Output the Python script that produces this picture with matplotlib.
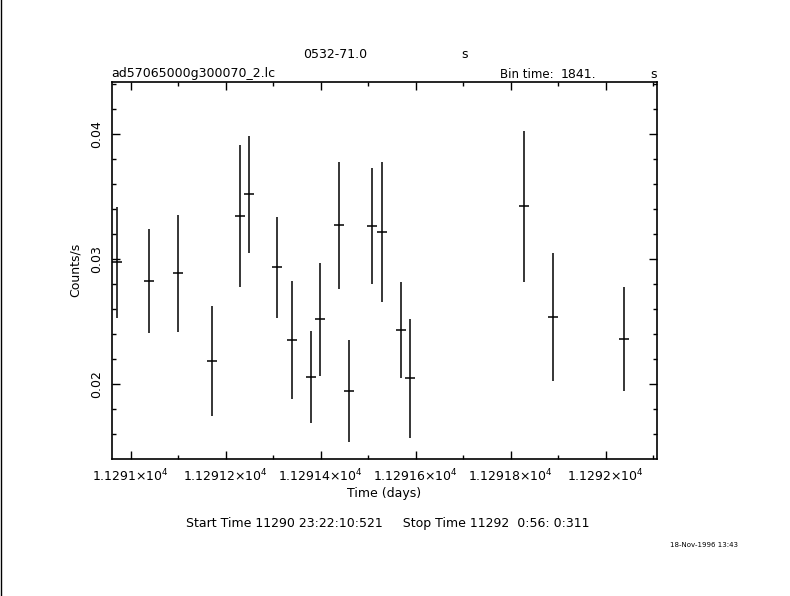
import matplotlib
matplotlib.use("Agg")
import matplotlib.pyplot as plt
from matplotlib.ticker import FixedLocator, MultipleLocator, FuncFormatter
from matplotlib.lines import Line2D

plt.rcParams['font.family'] = ['DejaVu Sans']

# light curve: time (days), rate (counts/s), 1-sigma error
time_days = [11290.9705, 11291.0392, 11291.1002, 11291.1705, 11291.2295,
             11291.2497, 11291.3086, 11291.3389, 11291.3789, 11291.3992,
             11291.4392, 11291.4596, 11291.5086, 11291.5297, 11291.5697,
             11291.5886, 11291.8286, 11291.8891, 11292.0392]
rate = [0.02976, 0.02824, 0.02888, 0.02186, 0.03346,
        0.03520, 0.02936, 0.02354, 0.02056, 0.02520,
        0.03272, 0.01944, 0.03264, 0.03216, 0.02434,
        0.02048, 0.03424, 0.02536, 0.02362]
rate_err = [0.00444, 0.00416, 0.00467, 0.00439, 0.00567,
            0.00467, 0.00403, 0.00473, 0.00367, 0.00451,
            0.00509, 0.00407, 0.00463, 0.00560, 0.00387,
            0.00475, 0.00603, 0.00511, 0.00419]
bin_time = 1841.0
half_bin = bin_time / 86400.0 / 2.0

x_major = [11291.0, 11291.2, 11291.4, 11291.6, 11291.8, 11292.0]
x_labels = ["1.1291", "1.12912", "1.12914", "1.12916", "1.12918", "1.1292"]
y_major = [0.02, 0.03, 0.04]

fig = plt.figure(figsize=(7.9, 5.96), dpi=100)
ax = fig.add_axes([0.1414, 0.2299, 0.6899, 0.6330])

ax.errorbar(time_days, rate, yerr=rate_err, xerr=half_bin, fmt='none',
            ecolor='black', elinewidth=1.1, capsize=0)

ax.set_xlim(11290.96, 11292.1074)
ax.set_ylim(0.01402, 0.04421)

ax.xaxis.set_major_locator(FixedLocator(x_major))
ax.xaxis.set_minor_locator(MultipleLocator(0.1))
ax.xaxis.set_major_formatter(FuncFormatter(
    lambda v, p: r"$\mathregular{%s{\times}10^{4}}$" % x_labels[p] if p is not None and p < len(x_labels) else ""))
ax.yaxis.set_major_locator(FixedLocator(y_major))
ax.yaxis.set_minor_locator(MultipleLocator(0.002))
ax.yaxis.set_major_formatter(FuncFormatter(lambda v, p: "%.2f" % v))

ax.tick_params(which='both', direction='in', top=True, right=True,
               width=1, labelsize=9, color='black')
ax.tick_params(which='major', length=6)
ax.tick_params(which='minor', length=3)
ax.tick_params(axis='x', pad=6)
ax.tick_params(axis='y', pad=6)
for lab in ax.get_yticklabels():
    lab.set_rotation(90)
    lab.set_va('center')
for s in ax.spines.values():
    s.set_linewidth(1.2)

ax.set_xlabel("Time (days)", fontsize=9, labelpad=2)
ax.set_ylabel("Counts/s", fontsize=9, labelpad=6)

fig.text(335 / 790, 1 - 55 / 596, "0532-71.0", ha='center', va='center', fontsize=9)
fig.text(465 / 790, 1 - 55 / 596, "s", ha='center', va='center', fontsize=9)
fig.text(111 / 790, 1 - 74 / 596, "ad57065000g300070_2.lc", ha='left', va='center', fontsize=9)
fig.text(500 / 790, 1 - 74 / 596, "Bin time:", ha='left', va='center', fontsize=8.5)
fig.text(596 / 790, 1 - 74 / 596, "%.0f." % bin_time, ha='right', va='center', fontsize=9)
fig.text(654 / 790, 1 - 74 / 596, "s", ha='center', va='center', fontsize=9)
fig.text(388 / 790, 1 - 524 / 596,
         "Start Time 11290 23:22:10:521     Stop Time 11292  0:56: 0:311",
         ha='center', va='center', fontsize=9)
fig.text(738 / 790, 1 - 545 / 596, "18-Nov-1996 13:43", ha='right', va='center', fontsize=5)

# left border line of the original screen grab
fig.add_artist(Line2D([0.0015, 0.0015], [0, 1], transform=fig.transFigure,
                      color='black', linewidth=1))

fig.savefig("out.png", dpi=100)
